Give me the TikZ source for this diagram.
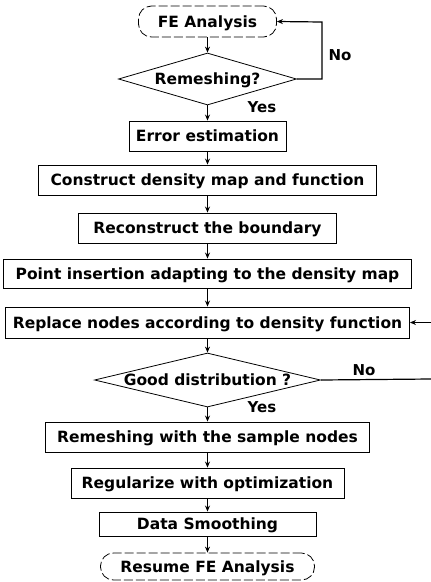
\documentclass[tikz,border=0pt]{standalone}
\usepackage{fontspec}
\setmainfont{DejaVu Sans}
\usetikzlibrary{shapes.geometric,arrows.meta}
\begin{document}
\begin{tikzpicture}[x=1pt,y=-1pt,
  every node/.style={font=\bfseries\fontsize{15.5}{17}\selectfont, inner sep=0pt, text height=11pt, text depth=0pt},
  procbox/.style={draw, line width=0.9pt, rectangle, minimum height=30pt},
  term/.style={draw, line width=0.8pt, dash pattern=on 9pt off 3pt, rectangle, rounded corners=13pt},
  decision/.style={draw, line width=0.8pt, diamond},
  lbl/.style={font=\bfseries\fontsize{15}{17}\selectfont},
  arr/.style={line width=1.2pt, -{Stealth[length=6pt,width=5pt]}},
  seg/.style={line width=1.2pt}
]
\useasboundingbox (0,0) rectangle (431,582);
\node[term, minimum width=138pt, minimum height=31pt] (fe) at (207.5,21.5) {FE Analysis};
\node[decision, minimum width=178pt, minimum height=52pt] (rem) at (207.5,79) {\makebox[0pt]{Remeshing?}};
\node[procbox, minimum width=157pt] (err) at (207.5,136) {Error estimation};
\node[procbox, minimum width=338pt] (con) at (207.5,180) {Construct density map and function};
\node[procbox, minimum width=258pt] (rec) at (207.5,228) {Reconstruct the boundary};
\node[procbox, minimum width=408pt, minimum height=29pt] (pin) at (207.5,273.5) {Point insertion adapting to the density map};
\node[procbox, minimum width=404pt, minimum height=31pt] (rep) at (207.5,322.5) {Replace nodes according to density function};
\node[decision, minimum width=226pt, minimum height=54pt] (good) at (207.5,380) {\makebox[0pt]{Good distribution ?}};
\node[procbox, minimum width=324pt] (msh) at (207.5,437) {Remeshing with the sample nodes};
\node[procbox, minimum width=273pt] (reg) at (207.5,483) {Regularize with optimization};
\node[procbox, minimum width=217pt, minimum height=24pt] (smo) at (207.5,524) {Data Smoothing};
\node[term, minimum width=214pt, minimum height=27pt] (res) at (207.5,566.5) {Resume FE Analysis};

\node[lbl] (no1) at (340,55) {No};
\node[lbl] (yes1) at (262,107) {Yes};
\node[lbl] (no2) at (364,370) {No};
\node[lbl] (yes2) at (262,407) {Yes};

\coordinate (c1) at (322,79);
\coordinate (c2) at (322,22);
\coordinate (e1) at (431,379);
\coordinate (e2) at (431,322.5);

\draw[arr] (fe) -- (rem);
\draw[arr] (rem) -- (err);
\draw[arr] (err) -- (con);
\draw[arr] (con) -- (rec);
\draw[arr] (rec) -- (pin);
\draw[arr] (pin) -- (rep);
\draw[arr] (rep) -- (good);
\draw[arr] (good) -- (msh);
\draw[arr] (msh) -- (reg);
\draw[arr] (reg) -- (smo);
\draw[arr] (smo) -- (res);
\draw[arr] (rem.east) -- (c1) -- (c2) -- (fe.east);
\draw[seg] (good.east) -- (e1);
\draw[arr] (e2) -- (rep.east);
\end{tikzpicture}
\end{document}
